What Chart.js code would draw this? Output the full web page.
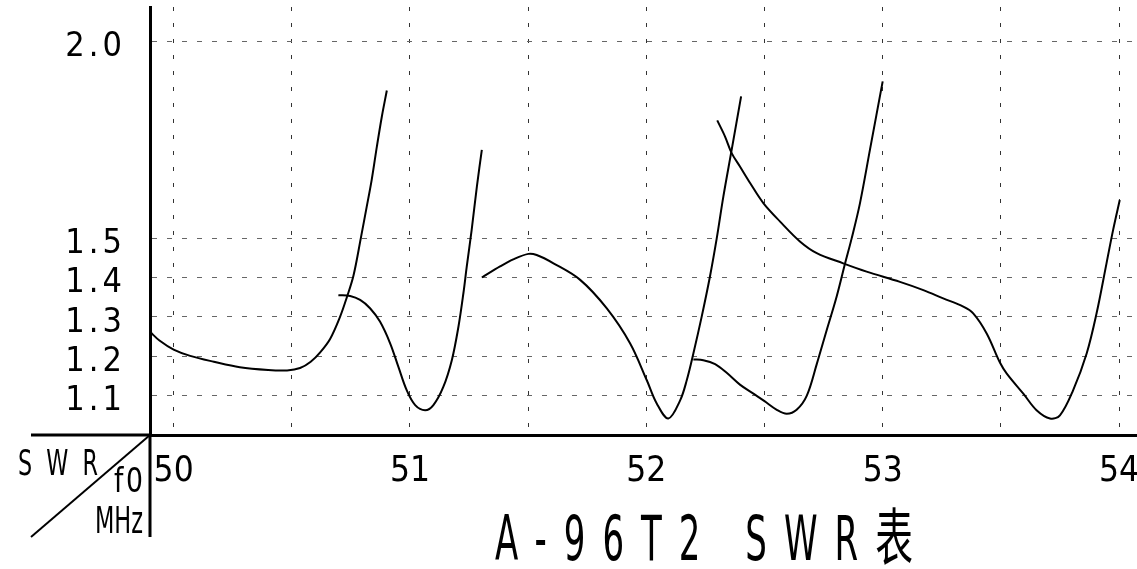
<!DOCTYPE html>
<html>
<head>
<meta charset="utf-8">
<script src="https://cdn.jsdelivr.net/npm/chart.js@4.4.1/dist/chart.umd.min.js"></script>
<style>
  html, body { margin: 0; padding: 0; background: #fff; }
  #wrap { width: 1137px; height: 569px; }
</style>
</head>
<body>
<div id="wrap"><canvas id="swrChart" width="1137" height="569"></canvas></div>
<script>
const FONT = '"Liberation Sans Narrow", "DejaVu Sans Condensed", "Noto Sans CJK SC", sans-serif';

const xTicks = [50, 50.5, 51, 51.5, 52, 52.5, 53, 53.5, 54];
const xTickLabels = ['50', '', '51', '', '52', '', '53', '', '54'];
const yTicks = [1.1, 1.2, 1.3, 1.4, 1.5, 2.0];
const yTickLabels = ['1.1', '1.2', '1.3', '1.4', '1.5', '2.0'];

const titleText = 'A-96T2 SWR表';
const cornerLabels = ['SWR', 'f0', 'MHz'];

// five measured curves, frequency (MHz) and SWR
const freq1 = [49.90, 49.94, 50.00, 50.07, 50.17, 50.28, 50.40, 50.48, 50.535, 50.58, 50.62, 50.662, 50.704, 50.733, 50.761, 50.792, 50.817, 50.838, 50.86, 50.881, 50.902];
const swr1  = [1.262, 1.240, 1.217, 1.201, 1.186, 1.172, 1.165, 1.164, 1.170, 1.186, 1.210, 1.244, 1.300, 1.350, 1.405, 1.500, 1.580, 1.648, 1.733, 1.809, 1.875];

const freq2 = [50.697, 50.747, 50.789, 50.831, 50.873, 50.916, 50.951, 50.986, 51.022, 51.064, 51.099, 51.141, 51.177, 51.205, 51.226, 51.24, 51.261, 51.283, 51.304];
const swr2  = [1.355, 1.353, 1.343, 1.322, 1.288, 1.233, 1.173, 1.114, 1.076, 1.063, 1.076, 1.122, 1.190, 1.275, 1.360, 1.427, 1.521, 1.631, 1.724];

const freq3 = [51.304, 51.381, 51.437, 51.501, 51.536, 51.607, 51.72, 51.832, 51.931, 52.002, 52.044, 52.093, 52.143, 52.171, 52.199, 52.234, 52.269, 52.298, 52.326, 52.361, 52.401];
const swr3  = [1.400, 1.428, 1.446, 1.460, 1.457, 1.436, 1.394, 1.322, 1.233, 1.139, 1.080, 1.042, 1.088, 1.139, 1.207, 1.300, 1.402, 1.500, 1.606, 1.724, 1.860];

const freq4 = [52.199, 52.241, 52.291, 52.34, 52.396, 52.453, 52.5, 52.552, 52.594, 52.636, 52.679, 52.721, 52.763, 52.805, 52.841, 52.869, 52.904, 52.946, 53.0];
const swr4  = [1.192, 1.190, 1.180, 1.158, 1.128, 1.105, 1.086, 1.064, 1.054, 1.064, 1.100, 1.180, 1.266, 1.351, 1.436, 1.500, 1.589, 1.724, 1.898];

const freq5 = [52.30, 52.333, 52.361, 52.396, 52.439, 52.495, 52.566, 52.651, 52.721, 52.833, 52.932, 53.073, 53.172, 53.256, 53.341, 53.383, 53.44, 53.496, 53.525, 53.595, 53.651, 53.708, 53.75, 53.806, 53.863, 53.905, 53.947, 53.975, 54.003];
const swr5  = [1.799, 1.758, 1.716, 1.682, 1.640, 1.589, 1.542, 1.491, 1.462, 1.436, 1.415, 1.389, 1.368, 1.347, 1.326, 1.309, 1.258, 1.184, 1.156, 1.105, 1.063, 1.042, 1.050, 1.114, 1.207, 1.309, 1.436, 1.521, 1.597];

const curves = [[freq1, swr1], [freq2, swr2], [freq3, swr3], [freq4, swr4], [freq5, swr5]];

// draw text squeezed to a given width
function fitText(ctx, text, x, y, size, width, spacing) {
  ctx.save();
  ctx.font = size + 'px ' + FONT;
  ctx.letterSpacing = spacing + 'px';
  ctx.textBaseline = 'alphabetic';
  ctx.textAlign = 'left';
  ctx.fillStyle = '#000';
  const w = ctx.measureText(text).width - spacing;
  ctx.translate(x, y);
  ctx.scale(width / w, 1);
  ctx.fillText(text, 0, 0);
  ctx.restore();
}

// wider spacing on the y labels only
const spacedYLabels = {
  id: 'spacedYLabels',
  beforeDraw(chart) {
    const s = chart.scales.y;
    if (s._spaced) return;
    const orig = s.drawLabels;
    s.drawLabels = function (area) {
      this.ctx.save();
      this.ctx.letterSpacing = '4px';
      orig.call(this, area);
      this.ctx.restore();
    };
    s._spaced = true;
  }
};

const frame = {
  id: 'frame',
  afterDraw(chart) {
    const { ctx, chartArea: a } = chart;
    ctx.save();
    ctx.strokeStyle = '#000';
    ctx.lineWidth = 3;
    ctx.beginPath();
    ctx.moveTo(31, a.bottom);
    ctx.lineTo(a.left, a.bottom);
    ctx.moveTo(a.left, a.bottom);
    ctx.lineTo(a.left, 537);
    ctx.stroke();
    ctx.lineWidth = 2;
    ctx.beginPath();
    ctx.moveTo(a.left, a.bottom);
    ctx.lineTo(31, 537);
    ctx.stroke();
    ctx.restore();

    fitText(ctx, cornerLabels[0], 18, 475, 35, 80, 20);
    fitText(ctx, cornerLabels[1], 114, 492, 33, 29, 3);
    fitText(ctx, cornerLabels[2], 95, 533, 38, 48, 0);
    fitText(ctx, titleText, 495, 560, 62, 418, 28);
  }
};

new Chart(document.getElementById('swrChart'), {
  type: 'line',
  data: {
    datasets: curves.map(([f, s]) => ({
      data: f.map((v, i) => ({ x: v, y: s[i] })),
      borderColor: '#000',
      borderWidth: 2,
      pointRadius: 0,
      fill: false,
      tension: 0.35
    }))
  },
  options: {
    responsive: false,
    animation: false,
    devicePixelRatio: 1,
    layout: { padding: { top: 7, right: 0, bottom: 0, left: 0 } },
    plugins: { legend: { display: false }, tooltip: { enabled: false } },
    scales: {
      x: {
        type: 'linear',
        min: 49.9,
        max: 54.076,
        afterBuildTicks: (s) => { s.ticks = xTicks.map(v => ({ value: v })); },
        afterFit: (s) => { s.height = 134; s.paddingLeft = 0; s.paddingRight = 0; },
        ticks: {
          autoSkip: false,
          maxRotation: 0,
          padding: 16,
          color: '#000',
          font: { family: FONT, size: 35 },
          callback: (v, i) => xTickLabels[i]
        },
        grid: { color: '#333', lineWidth: 1, drawTicks: false },
        border: { display: true, color: '#000', width: 3, dash: [4, 12] }
      },
      y: {
        type: 'linear',
        min: 1.0,
        max: 2.087,
        afterBuildTicks: (s) => { s.ticks = yTicks.map(v => ({ value: v })); },
        afterFit: (s) => { s.width = 150; s.paddingTop = 0; s.paddingBottom = 0; },
        ticks: {
          autoSkip: false,
          padding: 24,
          labelOffset: 6,
          color: '#000',
          font: { family: FONT, size: 34 },
          callback: (v, i) => yTickLabels[i]
        },
        grid: { color: '#666', lineWidth: 1, drawTicks: false },
        border: { display: true, color: '#000', width: 3, dash: [5, 10] }
      }
    }
  },
  plugins: [spacedYLabels, frame]
});
</script>
</body>
</html>
